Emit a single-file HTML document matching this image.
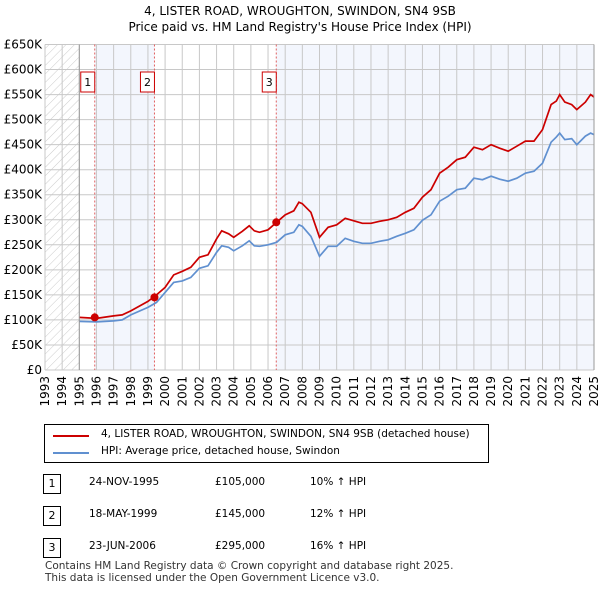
<!DOCTYPE html>
<html><head><meta charset="utf-8"><style>
body{margin:0;background:#fff;font-family:"DejaVu Sans","Liberation Sans",sans-serif;}
#wrap{position:relative;width:600px;height:590px;overflow:hidden}
.t{position:absolute;font-size:12px;color:#000;white-space:nowrap}
</style></head><body><div id="wrap">
<div class="t" style="left:0;width:600px;text-align:center;top:3px;font-size:12px;line-height:16px">4, LISTER ROAD, WROUGHTON, SWINDON, SN4 9SB<br>Price paid vs. HM Land Registry's House Price Index (HPI)</div>
<svg id="chart" width="600" height="420" style="position:absolute;left:0;top:0">
<defs><pattern id="hatch" width="6" height="6" patternUnits="userSpaceOnUse" patternTransform="rotate(45)"><line x1="0" y1="0" x2="0" y2="6" stroke="#ccc" stroke-width="1"/></pattern></defs>
<g id="bg"></g><g id="grid"></g><g id="marks"></g><g id="axes"></g></svg>
<div style="position:absolute;left:44px;top:424px;width:443px;height:37px;border:1px solid #000">
<div style="position:absolute;left:8px;top:10px;width:36px;border-top:2px solid #cc0000"></div>
<div class="t" style="left:56px;top:3px;font-size:10.5px">4, LISTER ROAD, WROUGHTON, SWINDON, SN4 9SB (detached house)</div>
<div style="position:absolute;left:8px;top:27px;width:36px;border-top:2px solid #6090d0"></div>
<div class="t" style="left:56px;top:20px;font-size:10.5px">HPI: Average price, detached house, Swindon</div>
</div>
<div id="table"></div>
<div class="t" style="left:45px;top:560px;font-size:10.5px;line-height:12px;color:#333">Contains HM Land Registry data © Crown copyright and database right 2025.<br>This data is licensed under the Open Government Licence v3.0.</div>
</div>
<script>
const hpiYears=[1995,1996,1997,1997.5,1998,1999,1999.5,2000,2000.5,2001,2001.5,2002,2002.5,2003,2003.3,2003.7,2004,2004.5,2004.9,2005.2,2005.5,2006,2006.5,2007,2007.5,2007.8,2008,2008.5,2009,2009.5,2010,2010.5,2011,2011.5,2012,2012.5,2013,2013.5,2014,2014.5,2015,2015.5,2016,2016.5,2017,2017.5,2018,2018.5,2019,2019.5,2020,2020.5,2021,2021.5,2022,2022.5,2022.8,2023,2023.3,2023.7,2024,2024.5,2024.8,2025];
const hpiValues=[97,96,98,100,110,125,135,155,175,178,185,203,208,235,248,245,238,248,258,248,247,250,255,270,275,290,287,267,227,247,247,263,257,253,253,257,260,267,273,280,299,310,337,347,360,363,383,380,387,381,377,383,393,397,413,455,465,473,460,462,450,467,473,470];
const redValues=[105,103,108,110,118,137,150,165,190,197,205,225,230,262,278,272,265,277,288,278,275,280,295,310,318,335,332,315,265,285,290,303,298,293,293,297,300,305,315,323,345,360,393,405,420,425,445,440,450,443,437,447,457,457,480,530,537,550,535,530,520,535,550,545];
const saleYears=[1995.9,1999.38,2006.48];
const salePrices=[105000,145000,295000];
const saleLabels=["1","2","3"];
const saleDates=["24-NOV-1995","18-MAY-1999","23-JUN-2006"];
const salePriceText=["£105,000","£145,000","£295,000"];
const saleHpiText=["10% ↑ HPI","12% ↑ HPI","16% ↑ HPI"];
const yTicks=[0,50,100,150,200,250,300,350,400,450,500,550,600,650];
const yTickLabels=["£0","£50K","£100K","£150K","£200K","£250K","£300K","£350K","£400K","£450K","£500K","£550K","£600K","£650K"];
const X0=45,X1=594,Y0=370,Y1=44.5,Ymin=1993,Ymax=2025;
const FONT='DejaVu Sans,Liberation Sans,sans-serif';
const xs=y=>X0+(y-Ymin)/(Ymax-Ymin)*(X1-X0);
const ys=v=>Y0-v/650*(Y0-Y1);
const NS="http://www.w3.org/2000/svg";
function mk(p,tag,at){const e=document.createElementNS(NS,tag);for(const k in at)e.setAttribute(k,at[k]);p.appendChild(e);return e;}
const bg=document.getElementById('bg'),grid=document.getElementById('grid'),marks=document.getElementById('marks'),axes=document.getElementById('axes');
let r=mk(bg,'rect',{x:X0,y:Y1,width:xs(1995)-X0,height:Y0-Y1,fill:'url(#hatch)'});

r=mk(bg,'rect',{x:xs(saleYears[0]),y:Y1,width:xs(saleYears[1])-xs(saleYears[0]),height:Y0-Y1,fill:'#f3f6fd'});

r=mk(bg,'rect',{x:xs(saleYears[2]),y:Y1,width:X1-xs(saleYears[2]),height:Y0-Y1,fill:'#f3f6fd'});

for(let yr=Ymin;yr<=Ymax;yr++){
 const l=mk(grid,'line',{x1:xs(yr),x2:xs(yr),y1:Y1,y2:Y0,stroke:'#c8c8c8','stroke-width':1});
 
 const t=mk(axes,'text',{x:0,y:0,transform:`translate(${xs(yr)+4},${Y0+6}) rotate(-90)`,'text-anchor':'end','font-size':12,'font-family':FONT});
 t.textContent=yr;
}
yTicks.forEach((v,i)=>{
 const l=mk(grid,'line',{x1:X0,x2:X1,y1:ys(v),y2:ys(v),stroke:'#c8c8c8','stroke-width':1});
 
 const t=mk(axes,'text',{x:X0-3,y:ys(v)+4,'text-anchor':'end','font-size':12,'font-family':FONT});
 t.textContent=yTickLabels[i];
});
let l=mk(axes,'line',{x1:xs(1995),x2:xs(1995),y1:Y1,y2:Y0,stroke:'#999'});

l=mk(axes,'line',{x1:X1,x2:X1,y1:Y1,y2:Y0,stroke:'#999'});

saleYears.forEach((yr,i)=>{
 const d=mk(marks,'line',{x1:xs(yr),x2:xs(yr),y1:Y1,y2:Y0,stroke:'#e06060','stroke-dasharray':'2,2','stroke-width':1});
 
 const b=mk(marks,'rect',{x:xs(yr)-14,y:72,width:14,height:20,fill:'#fff',stroke:'#cc0000'});
 
 const t=mk(marks,'text',{x:xs(yr)-7,y:86,'text-anchor':'middle','font-size':11,'font-family':FONT});
 t.textContent=saleLabels[i];
});
function path(vals){return hpiYears.map((y,i)=>(i?'L':'M')+xs(y).toFixed(1)+' '+ys(vals[i]).toFixed(1)).join(' ');}
let p=mk(marks,'path',{d:path(hpiValues),fill:'none',stroke:'#6090d0','stroke-width':1.7});

p=mk(marks,'path',{d:path(redValues),fill:'none',stroke:'#cc0000','stroke-width':1.7});

saleYears.forEach((yr,i)=>{
 const c=mk(marks,'circle',{cx:xs(yr),cy:ys(salePrices[i]/1000),r:4,fill:'#cc0000'});
 
});
const tb=document.getElementById('table');
saleYears.forEach((yr,i)=>{
 const top=474+i*32;
 const row=document.createElement('div');
 
 
 row.innerHTML=`<div style="position:absolute;left:43px;top:${top}px;width:16px;height:18px;border:1px solid #000;font-size:11px;text-align:center;line-height:18px">${saleLabels[i]}</div>
 <div class="t" style="left:89px;top:${top+2}px;font-size:10.5px">${saleDates[i]}</div>
 <div class="t" style="left:215px;top:${top+2}px;font-size:10.5px">${salePriceText[i]}</div>
 <div class="t" style="left:310px;top:${top+2}px;font-size:10.5px">${saleHpiText[i]}</div>`;
 tb.appendChild(row);
});
</script></body></html>
